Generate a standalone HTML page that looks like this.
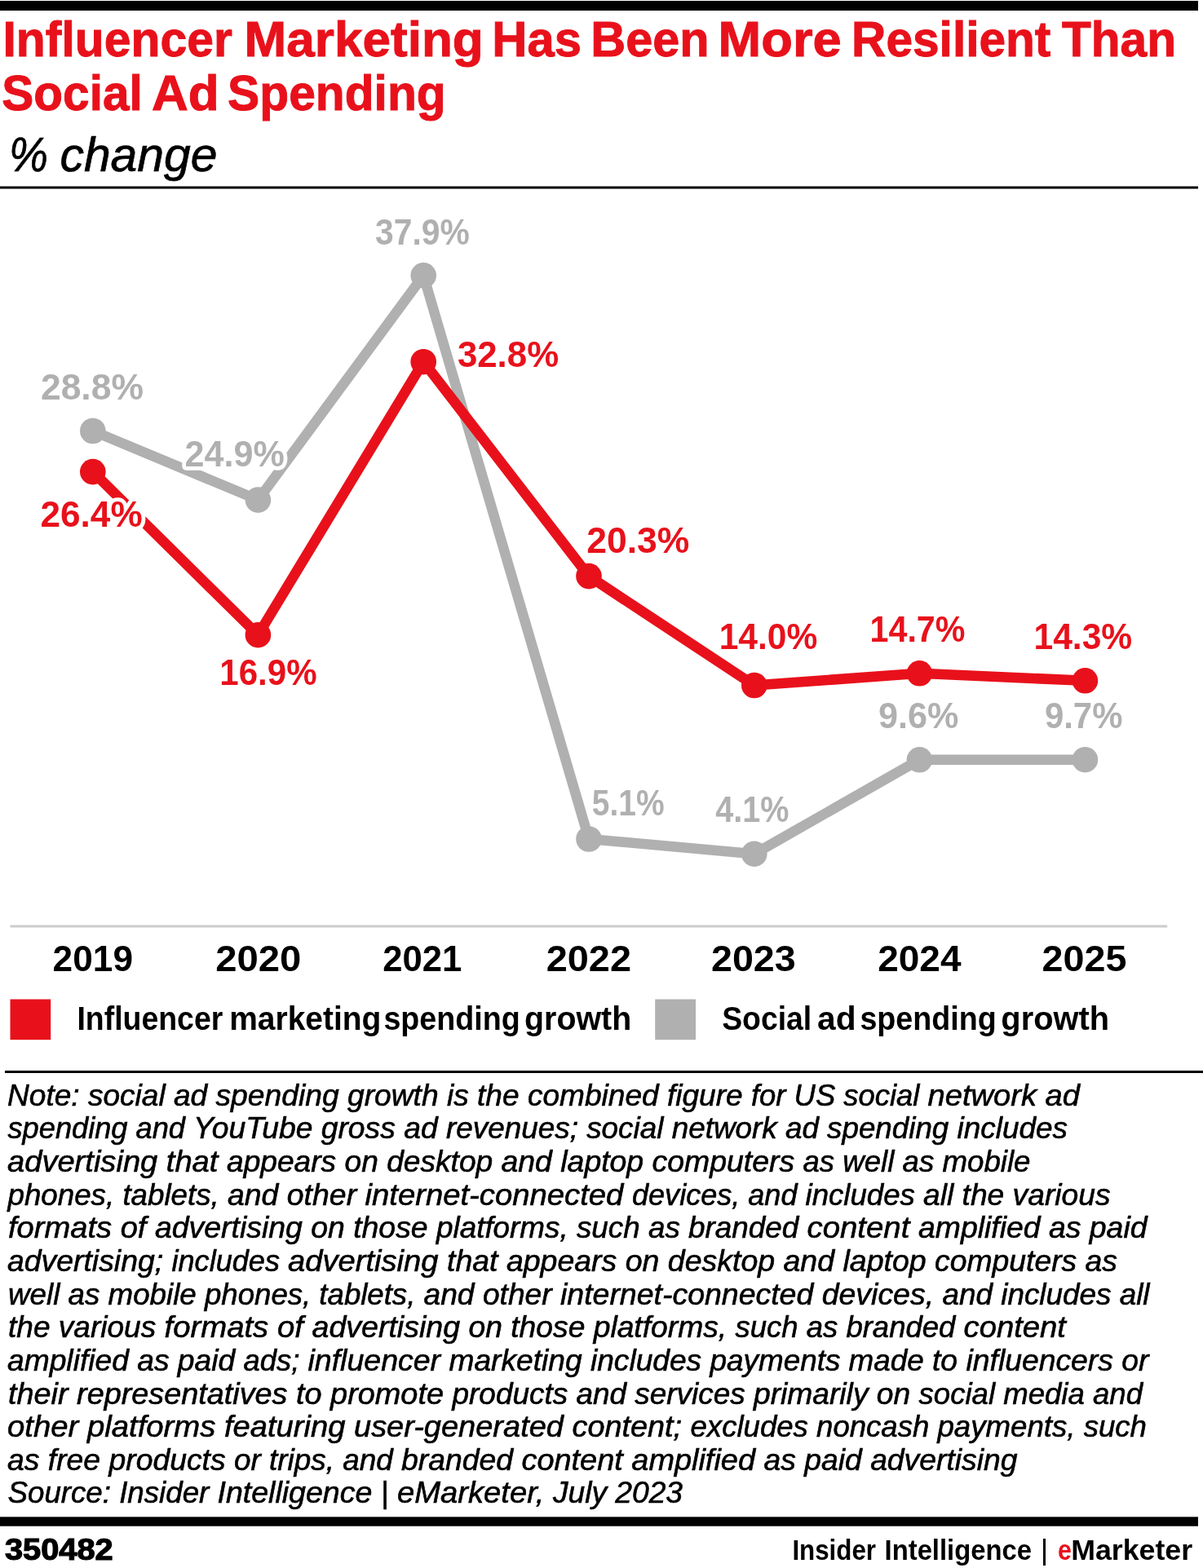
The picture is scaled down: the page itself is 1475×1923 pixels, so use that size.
<!DOCTYPE html>
<html lang="en"><head><meta charset="utf-8"><title>Influencer Marketing Has Been More Resilient Than Social Ad Spending</title>
<style>html,body{margin:0;padding:0;background:#fff}body{width:1475px;height:1923px;overflow:hidden}svg{display:block;font-family:"Liberation Sans", sans-serif}.halo text{paint-order:stroke fill;stroke:#fff;stroke-width:9.5px;stroke-linejoin:round}</style></head><body><figure style="margin:0">
<svg role="img" aria-label="Line chart: influencer marketing vs social ad spending growth, 2019-2025" width="1475" height="1923" viewBox="0 0 1475 1923">
<rect width="1475" height="1923" fill="#fff"/>
<rect x="0" y="1" width="1469" height="12" fill="#000"/>
<rect x="0" y="228.5" width="1469" height="3" fill="#000"/>
<rect x="6" y="1313" width="1469" height="3" fill="#000"/>
<rect x="0" y="1860.3" width="1469" height="11.4" fill="#000"/>
<g id="title">
<text y="68.9" font-size="61.5" font-weight="700" fill="#e8111b" stroke="#e8111b" stroke-width="1"><tspan class="m" id="ta0" x="3.50" textLength="281.37" lengthAdjust="spacingAndGlyphs">Influencer</tspan> <tspan class="m" id="ta1" x="299.60" textLength="293.13" lengthAdjust="spacingAndGlyphs">Marketing</tspan> <tspan class="m" id="ta2" x="603.30" textLength="109.55" lengthAdjust="spacingAndGlyphs">Has</tspan> <tspan class="m" id="ta3" x="724.30" textLength="145.40" lengthAdjust="spacingAndGlyphs">Been</tspan> <tspan class="m" id="ta4" x="880.60" textLength="151.16" lengthAdjust="spacingAndGlyphs">More</tspan> <tspan class="m" id="ta5" x="1044.10" textLength="244.28" lengthAdjust="spacingAndGlyphs">Resilient</tspan> <tspan class="m" id="ta6" x="1302.10" textLength="139.83" lengthAdjust="spacingAndGlyphs">Than</tspan></text>
<text y="134.7" font-size="61.5" font-weight="700" fill="#e8111b" stroke="#e8111b" stroke-width="1"><tspan class="m" id="tb0" x="2.30" textLength="172.40" lengthAdjust="spacingAndGlyphs">Social</tspan> <tspan class="m" id="tb1" x="186.00" textLength="82.60" lengthAdjust="spacingAndGlyphs">Ad</tspan> <tspan class="m" id="tb2" x="279.10" textLength="267.62" lengthAdjust="spacingAndGlyphs">Spending</tspan></text>
</g>
<text y="209.5" font-size="59" font-weight="400" fill="#000" font-style="italic" stroke="#000" stroke-width="0.7"><tspan class="m" id="sub0" x="10.90" textLength="47.87" lengthAdjust="spacingAndGlyphs">%</tspan> <tspan class="m" id="sub1" x="73.50" textLength="192.98" lengthAdjust="spacingAndGlyphs">change</tspan></text>
<rect x="12.5" y="1134.5" width="1418.7" height="3" fill="#cccccc"/>
<g id="series-social"><polyline points="113.8,528.5 316.4,613.1 519.2,337.8 722.0,1029.0 924.8,1047.2 1127.4,931.8 1330.4,931.7" fill="none" stroke="#b0b0b0" stroke-width="12.5" stroke-linejoin="round" stroke-linecap="round"/><circle cx="113.8" cy="528.5" r="15.8" fill="#b0b0b0"/><circle cx="316.4" cy="613.1" r="15.8" fill="#b0b0b0"/><circle cx="519.2" cy="337.8" r="15.8" fill="#b0b0b0"/><circle cx="722.0" cy="1029.0" r="15.8" fill="#b0b0b0"/><circle cx="924.8" cy="1047.2" r="15.8" fill="#b0b0b0"/><circle cx="1127.4" cy="931.8" r="15.8" fill="#b0b0b0"/><circle cx="1330.4" cy="931.7" r="15.8" fill="#b0b0b0"/></g>
<g id="series-influencer"><polyline points="113.8,578.6 316.4,778.7 519.2,443.7 722.0,706.6 924.8,840.5 1127.4,825.8 1330.4,834.8" fill="none" stroke="#e8111b" stroke-width="12.6" stroke-linejoin="round" stroke-linecap="round"/><circle cx="113.8" cy="578.6" r="15.8" fill="#e8111b"/><circle cx="316.4" cy="778.7" r="15.8" fill="#e8111b"/><circle cx="519.2" cy="443.7" r="15.8" fill="#e8111b"/><circle cx="722.0" cy="706.6" r="15.8" fill="#e8111b"/><circle cx="924.8" cy="840.5" r="15.8" fill="#e8111b"/><circle cx="1127.4" cy="825.8" r="15.8" fill="#e8111b"/><circle cx="1330.4" cy="834.8" r="15.8" fill="#e8111b"/></g>
<g id="labels-social" class="halo">
<text class="m" id="g0" x="49.90" y="489.9" textLength="126.15" lengthAdjust="spacingAndGlyphs" font-size="44" font-weight="700" fill="#b0b0b0">28.8%</text>
<text class="m" id="g1" x="226.60" y="572.2" textLength="122.16" lengthAdjust="spacingAndGlyphs" font-size="44" font-weight="700" fill="#b0b0b0">24.9%</text>
<text class="m" id="g2" x="460.00" y="299.5" textLength="115.74" lengthAdjust="spacingAndGlyphs" font-size="44" font-weight="700" fill="#b0b0b0">37.9%</text>
<text class="m" id="g3" x="725.80" y="1000.4" textLength="88.87" lengthAdjust="spacingAndGlyphs" font-size="44" font-weight="700" fill="#b0b0b0">5.1%</text>
<text class="m" id="g4" x="877.20" y="1008.2" textLength="90.24" lengthAdjust="spacingAndGlyphs" font-size="44" font-weight="700" fill="#b0b0b0">4.1%</text>
<text class="m" id="g5" x="1076.90" y="893.2" textLength="98.36" lengthAdjust="spacingAndGlyphs" font-size="44" font-weight="700" fill="#b0b0b0">9.6%</text>
<text class="m" id="g6" x="1280.90" y="893.2" textLength="95.57" lengthAdjust="spacingAndGlyphs" font-size="44" font-weight="700" fill="#b0b0b0">9.7%</text>
</g><g id="labels-influencer" class="halo">
<text class="m" id="r0" x="49.50" y="646.2" textLength="125.15" lengthAdjust="spacingAndGlyphs" font-size="44" font-weight="700" fill="#e8111b">26.4%</text>
<text class="m" id="r1" x="269.30" y="839.9" textLength="119.32" lengthAdjust="spacingAndGlyphs" font-size="44" font-weight="700" fill="#e8111b">16.9%</text>
<text class="m" id="r2" x="560.90" y="449.5" textLength="124.23" lengthAdjust="spacingAndGlyphs" font-size="44" font-weight="700" fill="#e8111b">32.8%</text>
<text class="m" id="r3" x="719.30" y="678.0" textLength="126.05" lengthAdjust="spacingAndGlyphs" font-size="44" font-weight="700" fill="#e8111b">20.3%</text>
<text class="m" id="r4" x="881.70" y="796.2" textLength="120.61" lengthAdjust="spacingAndGlyphs" font-size="44" font-weight="700" fill="#e8111b">14.0%</text>
<text class="m" id="r5" x="1066.60" y="786.5" textLength="116.80" lengthAdjust="spacingAndGlyphs" font-size="44" font-weight="700" fill="#e8111b">14.7%</text>
<text class="m" id="r6" x="1267.50" y="796.0" textLength="120.70" lengthAdjust="spacingAndGlyphs" font-size="44" font-weight="700" fill="#e8111b">14.3%</text>
</g>
<g id="years">
<text class="m" id="y0" x="64.60" y="1191.4" textLength="98.38" lengthAdjust="spacingAndGlyphs" font-size="45" font-weight="700" fill="#000">2019</text>
<text class="m" id="y1" x="264.20" y="1191.4" textLength="105.19" lengthAdjust="spacingAndGlyphs" font-size="45" font-weight="700" fill="#000">2020</text>
<text class="m" id="y2" x="469.20" y="1191.4" textLength="97.04" lengthAdjust="spacingAndGlyphs" font-size="45" font-weight="700" fill="#000">2021</text>
<text class="m" id="y3" x="669.70" y="1191.4" textLength="104.30" lengthAdjust="spacingAndGlyphs" font-size="45" font-weight="700" fill="#000">2022</text>
<text class="m" id="y4" x="872.00" y="1191.4" textLength="103.70" lengthAdjust="spacingAndGlyphs" font-size="45" font-weight="700" fill="#000">2023</text>
<text class="m" id="y5" x="1076.20" y="1191.4" textLength="102.32" lengthAdjust="spacingAndGlyphs" font-size="45" font-weight="700" fill="#000">2024</text>
<text class="m" id="y6" x="1277.60" y="1191.4" textLength="103.87" lengthAdjust="spacingAndGlyphs" font-size="45" font-weight="700" fill="#000">2025</text>
</g>
<rect x="12.5" y="1225.5" width="49.7" height="49.7" fill="#e8111b"/>
<text y="1262.5" font-size="41" font-weight="700" fill="#000"><tspan class="m" id="la0" x="94.40" textLength="178.94" lengthAdjust="spacingAndGlyphs">Influencer</tspan> <tspan class="m" id="la1" x="281.20" textLength="186.22" lengthAdjust="spacingAndGlyphs">marketing</tspan> <tspan class="m" id="la2" x="470.40" textLength="167.28" lengthAdjust="spacingAndGlyphs">spending</tspan> <tspan class="m" id="la3" x="643.10" textLength="131.10" lengthAdjust="spacingAndGlyphs">growth</tspan></text>
<rect x="803.2" y="1225.5" width="49.8" height="49.7" fill="#b0b0b0"/>
<text y="1262.5" font-size="41" font-weight="700" fill="#000"><tspan class="m" id="lb0" x="885.20" textLength="110.00" lengthAdjust="spacingAndGlyphs">Social</tspan> <tspan class="m" id="lb1" x="1002.10" textLength="47.54" lengthAdjust="spacingAndGlyphs">ad</tspan> <tspan class="m" id="lb2" x="1054.40" textLength="167.28" lengthAdjust="spacingAndGlyphs">spending</tspan> <tspan class="m" id="lb3" x="1227.30" textLength="132.80" lengthAdjust="spacingAndGlyphs">growth</tspan></text>
<g id="notes" stroke="#000" stroke-width="0.6">
<text y="1355.8" font-size="37" font-style="italic"><tspan class="m" id="n0_0" x="9.00" textLength="255.50" lengthAdjust="spacingAndGlyphs">Note: social ad </tspan><tspan class="m" id="n0_1" x="264.50" textLength="283.50" lengthAdjust="spacingAndGlyphs">spending growth </tspan><tspan class="m" id="n0_2" x="548.00" textLength="373.00" lengthAdjust="spacingAndGlyphs">is the combined figure </tspan><tspan class="m" id="n0_3" x="921.00" textLength="216.50" lengthAdjust="spacingAndGlyphs">for US social </tspan><tspan class="m" id="n0_4" x="1137.50" textLength="186.50" lengthAdjust="spacingAndGlyphs">network ad</tspan></text>
<text y="1396.4" font-size="37" font-style="italic"><tspan class="m" id="n1_0" x="9.50" textLength="227.50" lengthAdjust="spacingAndGlyphs">spending and </tspan><tspan class="m" id="n1_1" x="237.00" textLength="310.00" lengthAdjust="spacingAndGlyphs">YouTube gross ad </tspan><tspan class="m" id="n1_2" x="547.00" textLength="416.00" lengthAdjust="spacingAndGlyphs">revenues; social network </tspan><tspan class="m" id="n1_3" x="963.00" textLength="210.50" lengthAdjust="spacingAndGlyphs">ad spending </tspan><tspan class="m" id="n1_4" x="1173.50" textLength="135.50" lengthAdjust="spacingAndGlyphs">includes</tspan></text>
<text y="1437.1" font-size="37" font-style="italic"><tspan class="m" id="n2_0" x="9.00" textLength="269.00" lengthAdjust="spacingAndGlyphs">advertising that </tspan><tspan class="m" id="n2_1" x="278.00" textLength="336.50" lengthAdjust="spacingAndGlyphs">appears on desktop </tspan><tspan class="m" id="n2_2" x="614.50" textLength="370.00" lengthAdjust="spacingAndGlyphs">and laptop computers </tspan><tspan class="m" id="n2_3" x="984.50" textLength="122.00" lengthAdjust="spacingAndGlyphs">as well </tspan><tspan class="m" id="n2_4" x="1106.50" textLength="157.03" lengthAdjust="spacingAndGlyphs">as mobile</tspan></text>
<text y="1477.7" font-size="37" font-style="italic"><tspan class="m" id="n3_0" x="9.50" textLength="269.50" lengthAdjust="spacingAndGlyphs">phones, tablets, </tspan><tspan class="m" id="n3_1" x="279.00" textLength="168.50" lengthAdjust="spacingAndGlyphs">and other </tspan><tspan class="m" id="n3_2" x="447.50" textLength="327.50" lengthAdjust="spacingAndGlyphs">internet-connected </tspan><tspan class="m" id="n3_3" x="775.00" textLength="212.50" lengthAdjust="spacingAndGlyphs">devices, and </tspan><tspan class="m" id="n3_4" x="987.50" textLength="144.50" lengthAdjust="spacingAndGlyphs">includes </tspan><tspan class="m" id="n3_5" x="1132.00" textLength="229.51" lengthAdjust="spacingAndGlyphs">all the various</tspan></text>
<text y="1518.3" font-size="37" font-style="italic"><tspan class="m" id="n4_0" x="10.00" textLength="180.00" lengthAdjust="spacingAndGlyphs">formats of </tspan><tspan class="m" id="n4_1" x="190.00" textLength="345.00" lengthAdjust="spacingAndGlyphs">advertising on those </tspan><tspan class="m" id="n4_2" x="535.00" textLength="454.50" lengthAdjust="spacingAndGlyphs">platforms, such as branded </tspan><tspan class="m" id="n4_3" x="989.50" textLength="136.50" lengthAdjust="spacingAndGlyphs">content </tspan><tspan class="m" id="n4_4" x="1126.00" textLength="280.50" lengthAdjust="spacingAndGlyphs">amplified as paid</tspan></text>
<text y="1559.0" font-size="37" font-style="italic"><tspan class="m" id="n5_0" x="9.00" textLength="201.50" lengthAdjust="spacingAndGlyphs">advertising; </tspan><tspan class="m" id="n5_1" x="210.50" textLength="142.50" lengthAdjust="spacingAndGlyphs">includes </tspan><tspan class="m" id="n5_2" x="353.00" textLength="195.00" lengthAdjust="spacingAndGlyphs">advertising </tspan><tspan class="m" id="n5_3" x="548.00" textLength="412.50" lengthAdjust="spacingAndGlyphs">that appears on desktop </tspan><tspan class="m" id="n5_4" x="960.50" textLength="185.50" lengthAdjust="spacingAndGlyphs">and laptop </tspan><tspan class="m" id="n5_5" x="1146.00" textLength="224.01" lengthAdjust="spacingAndGlyphs">computers as</tspan></text>
<text y="1599.6" font-size="37" font-style="italic"><tspan class="m" id="n6_0" x="10.00" textLength="241.00" lengthAdjust="spacingAndGlyphs">well as mobile </tspan><tspan class="m" id="n6_1" x="251.00" textLength="268.50" lengthAdjust="spacingAndGlyphs">phones, tablets, </tspan><tspan class="m" id="n6_2" x="519.50" textLength="167.50" lengthAdjust="spacingAndGlyphs">and other </tspan><tspan class="m" id="n6_3" x="687.00" textLength="468.50" lengthAdjust="spacingAndGlyphs">internet-connected devices, </tspan><tspan class="m" id="n6_4" x="1155.50" textLength="254.00" lengthAdjust="spacingAndGlyphs">and includes all</tspan></text>
<text y="1640.2" font-size="37" font-style="italic"><tspan class="m" id="n7_0" x="10.00" textLength="191.50" lengthAdjust="spacingAndGlyphs">the various </tspan><tspan class="m" id="n7_1" x="201.50" textLength="181.00" lengthAdjust="spacingAndGlyphs">formats of </tspan><tspan class="m" id="n7_2" x="382.50" textLength="192.00" lengthAdjust="spacingAndGlyphs">advertising </tspan><tspan class="m" id="n7_3" x="574.50" textLength="327.00" lengthAdjust="spacingAndGlyphs">on those platforms, </tspan><tspan class="m" id="n7_4" x="901.50" textLength="280.00" lengthAdjust="spacingAndGlyphs">such as branded </tspan><tspan class="m" id="n7_5" x="1181.50" textLength="125.50" lengthAdjust="spacingAndGlyphs">content</tspan></text>
<text y="1680.8" font-size="37" font-style="italic"><tspan class="m" id="n8_0" x="9.00" textLength="289.50" lengthAdjust="spacingAndGlyphs">amplified as paid </tspan><tspan class="m" id="n8_1" x="298.50" textLength="79.00" lengthAdjust="spacingAndGlyphs">ads; </tspan><tspan class="m" id="n8_2" x="377.50" textLength="173.00" lengthAdjust="spacingAndGlyphs">influencer </tspan><tspan class="m" id="n8_3" x="550.50" textLength="320.00" lengthAdjust="spacingAndGlyphs">marketing includes </tspan><tspan class="m" id="n8_4" x="870.50" textLength="272.50" lengthAdjust="spacingAndGlyphs">payments made </tspan><tspan class="m" id="n8_5" x="1143.00" textLength="265.50" lengthAdjust="spacingAndGlyphs">to influencers or</tspan></text>
<text y="1721.5" font-size="37" font-style="italic"><tspan class="m" id="n9_0" x="10.00" textLength="353.00" lengthAdjust="spacingAndGlyphs">their representatives </tspan><tspan class="m" id="n9_1" x="363.00" textLength="191.50" lengthAdjust="spacingAndGlyphs">to promote </tspan><tspan class="m" id="n9_2" x="554.50" textLength="369.50" lengthAdjust="spacingAndGlyphs">products and services </tspan><tspan class="m" id="n9_3" x="924.00" textLength="202.50" lengthAdjust="spacingAndGlyphs">primarily on </tspan><tspan class="m" id="n9_4" x="1126.50" textLength="274.50" lengthAdjust="spacingAndGlyphs">social media and</tspan></text>
<text y="1762.1" font-size="37" font-style="italic"><tspan class="m" id="n10_0" x="9.00" textLength="266.00" lengthAdjust="spacingAndGlyphs">other platforms </tspan><tspan class="m" id="n10_1" x="275.00" textLength="159.00" lengthAdjust="spacingAndGlyphs">featuring </tspan><tspan class="m" id="n10_2" x="434.00" textLength="267.50" lengthAdjust="spacingAndGlyphs">user-generated </tspan><tspan class="m" id="n10_3" x="701.50" textLength="145.00" lengthAdjust="spacingAndGlyphs">content; </tspan><tspan class="m" id="n10_4" x="846.50" textLength="303.00" lengthAdjust="spacingAndGlyphs">excludes noncash </tspan><tspan class="m" id="n10_5" x="1149.50" textLength="256.50" lengthAdjust="spacingAndGlyphs">payments, such</tspan></text>
<text y="1802.7" font-size="37" font-style="italic"><tspan class="m" id="n11_0" x="9.00" textLength="278.00" lengthAdjust="spacingAndGlyphs">as free products </tspan><tspan class="m" id="n11_1" x="287.00" textLength="205.00" lengthAdjust="spacingAndGlyphs">or trips, and </tspan><tspan class="m" id="n11_2" x="492.00" textLength="147.50" lengthAdjust="spacingAndGlyphs">branded </tspan><tspan class="m" id="n11_3" x="639.50" textLength="297.00" lengthAdjust="spacingAndGlyphs">content amplified </tspan><tspan class="m" id="n11_4" x="936.50" textLength="311.00" lengthAdjust="spacingAndGlyphs">as paid advertising</tspan></text>
<text y="1843.4" font-size="37" font-style="italic"><tspan class="m" id="n12_0" x="9.50" textLength="257.00" lengthAdjust="spacingAndGlyphs">Source: Insider </tspan><tspan class="m" id="n12_1" x="266.50" textLength="220.50" lengthAdjust="spacingAndGlyphs">Intelligence | </tspan><tspan class="m" id="n12_2" x="487.00" textLength="191.00" lengthAdjust="spacingAndGlyphs">eMarketer, </tspan><tspan class="m" id="n12_3" x="678.00" textLength="159.00" lengthAdjust="spacingAndGlyphs">July 2023</tspan></text>
</g>
<text class="m" id="id" x="5.90" y="1912.8" textLength="132.74" lengthAdjust="spacingAndGlyphs" font-size="37" font-weight="700" fill="#000" stroke="#000" stroke-width="1.2">350482</text>
<text y="1913.2" font-size="34.5" font-weight="700" fill="#000"><tspan class="m" id="br0" x="971.40" textLength="102.65" lengthAdjust="spacingAndGlyphs">Insider</tspan> <tspan class="m" id="br1" x="1084.60" textLength="180.35" lengthAdjust="spacingAndGlyphs">Intelligence</tspan> <tspan class="m" id="br2" x="1275.70" textLength="9.53" lengthAdjust="spacingAndGlyphs" font-weight="400">|</tspan> <tspan class="m" id="br3" x="1297.00" textLength="16.85" lengthAdjust="spacingAndGlyphs" fill="#e8111b">e</tspan> <tspan class="m" id="br4" x="1313.20" textLength="148.94" lengthAdjust="spacingAndGlyphs">Marketer</tspan></text>
</svg></figure></body></html>
